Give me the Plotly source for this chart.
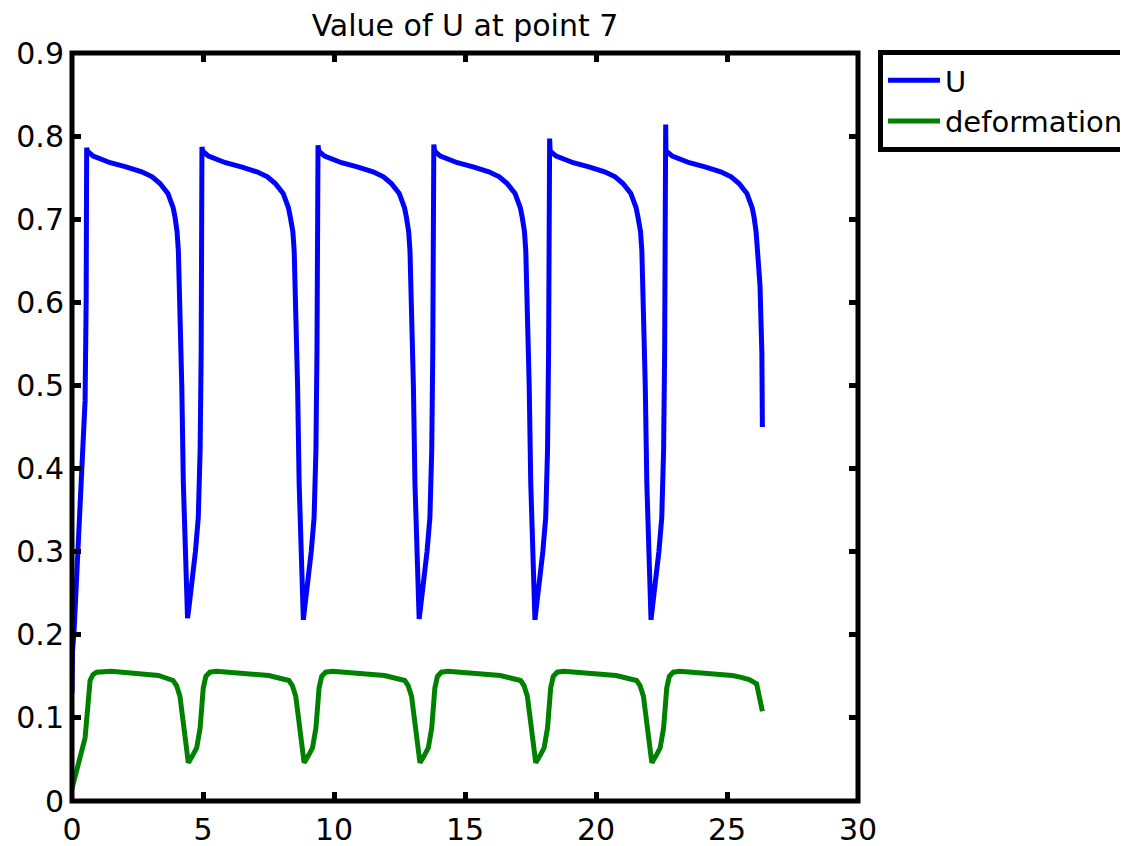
import plotly.graph_objects as go

# ---- data ----
t_u = [
    0.00, 0.02, 0.08, 0.24, 0.41, 0.50, 0.54, 0.555,
    # cycle 1
    0.56, 0.59, 0.81, 1.16, 1.46, 2.06, 2.66, 3.06, 3.36, 3.66, 3.86, 3.93, 4.01, 4.06, 4.12, 4.19, 4.25, 4.31, 4.35, 4.41,
    4.46, 4.57, 4.71, 4.82, 4.89, 4.93, 4.95,
    # cycle 2
    4.96, 4.99, 5.21, 5.56, 5.86, 6.46, 7.06, 7.46, 7.76, 8.06, 8.26, 8.33, 8.43, 8.48, 8.54, 8.61, 8.67, 8.73, 8.77, 8.83,
    8.88, 8.99, 9.13, 9.24, 9.31, 9.35, 9.38,
    # cycle 3
    9.39, 9.42, 9.64, 9.99, 10.29, 10.89, 11.49, 11.89, 12.19, 12.49, 12.69, 12.76, 12.85, 12.90, 12.96, 13.03, 13.09, 13.15, 13.19, 13.25,
    13.30, 13.41, 13.55, 13.66, 13.73, 13.77, 13.80,
    # cycle 4
    13.81, 13.84, 14.06, 14.41, 14.71, 15.31, 15.91, 16.31, 16.61, 16.91, 17.11, 17.18, 17.27, 17.32, 17.38, 17.45, 17.51, 17.57, 17.61, 17.67,
    17.72, 17.83, 17.97, 18.08, 18.15, 18.19, 18.22,
    # cycle 5
    18.23, 18.25, 18.48, 18.83, 19.13, 19.73, 20.33, 20.73, 21.03, 21.33, 21.53, 21.60, 21.70, 21.75, 21.81, 21.88, 21.94, 22.00, 22.04, 22.10,
    22.15, 22.26, 22.40, 22.51, 22.58, 22.62, 22.65,
    # cycle 6
    22.66, 22.67, 22.91, 23.26, 23.56, 24.16, 24.76, 25.16, 25.46, 25.76, 25.96, 26.03, 26.11, 26.18, 26.26, 26.33, 26.35,
]
u_vals = [
    0.13, 0.18, 0.205, 0.305, 0.402, 0.482, 0.60, 0.70,
    0.786, 0.782, 0.776, 0.771, 0.768, 0.763, 0.757, 0.751, 0.743, 0.731, 0.714, 0.703, 0.685, 0.662, 0.60, 0.50, 0.382, 0.30, 0.261, 0.220,
    0.232, 0.261, 0.30, 0.341, 0.422, 0.54, 0.66,
    0.787, 0.782, 0.776, 0.771, 0.768, 0.763, 0.757, 0.751, 0.743, 0.731, 0.714, 0.703, 0.685, 0.662, 0.60, 0.50, 0.382, 0.30, 0.261, 0.218,
    0.232, 0.261, 0.30, 0.341, 0.422, 0.54, 0.66,
    0.789, 0.782, 0.776, 0.771, 0.768, 0.763, 0.757, 0.751, 0.743, 0.731, 0.714, 0.703, 0.685, 0.662, 0.60, 0.50, 0.382, 0.30, 0.261, 0.219,
    0.232, 0.261, 0.30, 0.341, 0.422, 0.54, 0.66,
    0.790, 0.782, 0.776, 0.771, 0.768, 0.763, 0.757, 0.751, 0.743, 0.731, 0.714, 0.703, 0.685, 0.662, 0.60, 0.50, 0.382, 0.30, 0.261, 0.218,
    0.232, 0.261, 0.30, 0.341, 0.422, 0.54, 0.66,
    0.797, 0.782, 0.776, 0.771, 0.768, 0.763, 0.757, 0.751, 0.743, 0.731, 0.714, 0.703, 0.685, 0.662, 0.60, 0.50, 0.382, 0.30, 0.261, 0.218,
    0.232, 0.261, 0.30, 0.341, 0.422, 0.54, 0.66,
    0.814, 0.782, 0.776, 0.771, 0.768, 0.763, 0.757, 0.751, 0.743, 0.731, 0.714, 0.703, 0.685, 0.655, 0.62, 0.54, 0.45,
]

t_def = [
    0.00, 0.08, 0.30, 0.50, 0.58, 0.69, 0.80, 0.94,
    1.50, 2.50, 3.30, 3.86, 3.99, 4.12, 4.25, 4.36, 4.44,
    4.61, 4.76, 4.89, 4.96, 5.01, 5.11, 5.26, 5.51, 6.61, 7.51, 8.28, 8.41, 8.54, 8.67, 8.78, 8.86,
    9.03, 9.18, 9.31, 9.38, 9.43, 9.53, 9.68, 9.93, 11.03, 11.93, 12.70, 12.83, 12.96, 13.09, 13.20, 13.28,
    13.45, 13.60, 13.73, 13.80, 13.85, 13.95, 14.10, 14.35, 15.45, 16.35, 17.12, 17.25, 17.38, 17.51, 17.62, 17.70,
    17.87, 18.02, 18.15, 18.22, 18.27, 18.37, 18.52, 18.77, 19.87, 20.77, 21.55, 21.68, 21.81, 21.94, 22.05, 22.13,
    22.30, 22.45, 22.58, 22.65, 22.70, 22.80, 22.95, 23.20, 24.30, 25.20, 25.50, 25.85, 26.13, 26.25, 26.35,
]
def_vals = [
    0.015, 0.024, 0.048, 0.076, 0.105, 0.145, 0.152, 0.155,
    0.156, 0.154, 0.151, 0.145, 0.139, 0.126, 0.092, 0.060, 0.046,
    0.055, 0.064, 0.088, 0.115, 0.136, 0.150, 0.155, 0.156, 0.154, 0.151, 0.145, 0.139, 0.126, 0.092, 0.060, 0.046,
    0.055, 0.064, 0.088, 0.115, 0.136, 0.150, 0.155, 0.156, 0.154, 0.151, 0.145, 0.139, 0.126, 0.092, 0.060, 0.046,
    0.055, 0.064, 0.088, 0.115, 0.136, 0.150, 0.155, 0.156, 0.154, 0.151, 0.145, 0.139, 0.126, 0.092, 0.060, 0.046,
    0.055, 0.064, 0.088, 0.115, 0.136, 0.150, 0.155, 0.156, 0.154, 0.151, 0.145, 0.139, 0.126, 0.092, 0.060, 0.046,
    0.055, 0.064, 0.088, 0.115, 0.136, 0.150, 0.155, 0.156, 0.154, 0.151, 0.149, 0.146, 0.141, 0.125, 0.108,
]

x_ticks = [0, 5, 10, 15, 20, 25, 30]
y_ticks = [0, 0.1, 0.2, 0.3, 0.4, 0.5, 0.6, 0.7, 0.8, 0.9]
series_names = ["U", "deformation"]
title_text = "Value of U at point 7"

FONT = "DejaVu Sans"

fig = go.Figure()
fig.add_trace(go.Scatter(x=t_u, y=u_vals, mode="lines", name=series_names[0],
                         line=dict(color="#0000FF", width=5)))
fig.add_trace(go.Scatter(x=t_def, y=def_vals, mode="lines", name=series_names[1],
                         line=dict(color="#008000", width=5)))

axis_common = dict(
    showline=False, mirror="ticks",
    ticks="inside", ticklen=9, tickwidth=5, tickcolor="black",
    showgrid=False, zeroline=False,
    tickfont=dict(family=FONT, size=30, color="black"),
)
fig.update_xaxes(range=[0, 30], tickvals=x_ticks, ticktext=[str(v) for v in x_ticks],
                 ticklabelstandoff=8, **axis_common)
fig.update_yaxes(range=[0, 0.9], tickvals=y_ticks,
                 ticktext=[("0" if v == 0 else f"{v:.1f}") for v in y_ticks],
                 ticklabelstandoff=7, **axis_common)

# axes box centred on the plot-area edges
fig.add_shape(type="rect", xref="paper", yref="paper", x0=0, y0=0, x1=1, y1=1,
              line=dict(color="black", width=5), fillcolor="rgba(0,0,0,0)", layer="above")

fig.update_layout(
    width=1128, height=846,
    margin=dict(l=64, r=278, t=45, b=53, autoexpand=False),
    paper_bgcolor="white", plot_bgcolor="white",
    title=dict(text=title_text, x=0.5, xref="paper", xanchor="center",
               y=1.0, yref="paper", yanchor="bottom", pad=dict(b=17),
               font=dict(family=FONT, size=30, color="black")),
    legend=dict(x=1.0254, y=1.004, xanchor="left", yanchor="top",
                bordercolor="black", borderwidth=5, bgcolor="white",
                font=dict(family=FONT, size=29, color="black"),
                itemwidth=52),
    showlegend=True,
)

fig.write_html("out.html")
